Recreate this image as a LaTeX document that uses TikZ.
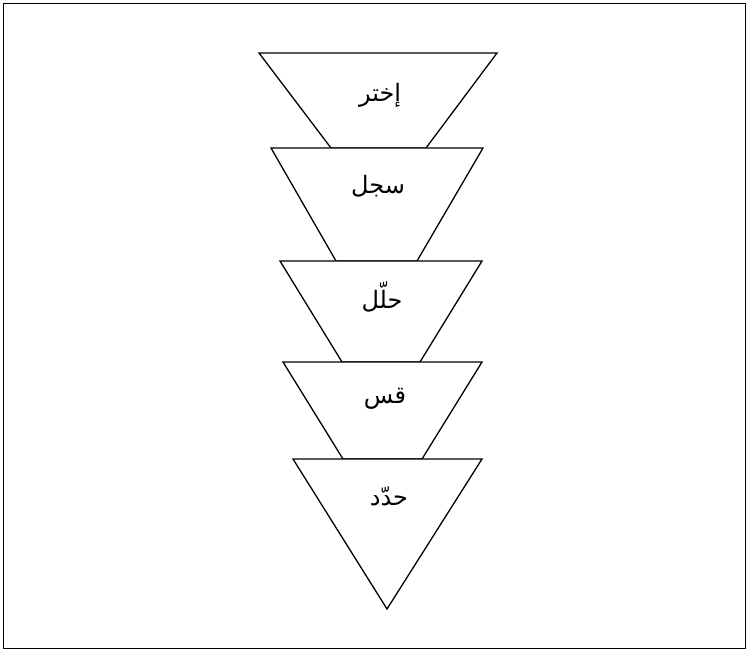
\documentclass[tikz,border=0pt]{standalone}
\usepackage{fontspec}
\TeXXeTstate=1
\newfontfamily\arabicfont[Script=Arabic]{DejaVu Sans}
\begin{document}
\begin{tikzpicture}[x=1pt,y=-1pt,
  funnel/.style={draw=black,line width=1.3pt,line join=miter,fill=white},
  lbl/.style={font=\arabicfont\fontsize{24}{28}\selectfont,inner sep=0pt}]
\useasboundingbox (0,0) rectangle (749,652);
\draw[line width=1.3pt] (3.5,3.5) rectangle (745.5,648.5);
\draw[funnel] (259,53) -- (497,53) -- (426,148) -- (331,148) -- cycle;
\draw[funnel] (271,148) -- (483,148) -- (417,261) -- (336,261) -- cycle;
\draw[funnel] (280,261) -- (482,261) -- (420,362) -- (342,362) -- cycle;
\draw[funnel] (283,362) -- (482,362) -- (422,459) -- (343,459) -- cycle;
\draw[funnel] (293,459) -- (482,459) -- (387,609) -- cycle;
\node[lbl] (t1) at (380,95) {\beginR إختر\endR};
\node[lbl] (t2) at (378,186) {\beginR سجل\endR};
\node[lbl] (t3) at (382,297) {\beginR حلّل\endR};
\node[lbl] (t4) at (385,399) {\beginR قس\endR};
\node[lbl] (t5) at (389,496) {\beginR حدّد\endR};
\end{tikzpicture}
\end{document}
